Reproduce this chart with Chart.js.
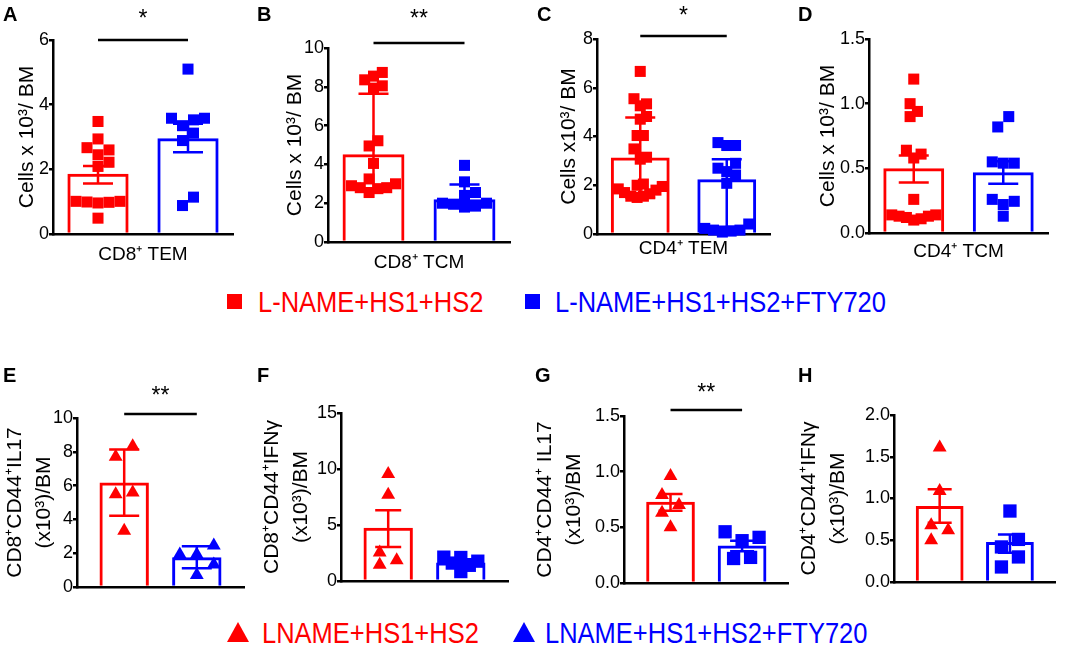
<!DOCTYPE html>
<html>
<head>
<meta charset="utf-8">
<script src="https://cdn.jsdelivr.net/npm/chart.js@4.4.1/dist/chart.umd.min.js"></script>
<style>
html,body{margin:0;padding:0;background:#fff;}
#wrap{position:relative;width:1065px;height:647px;overflow:hidden;font-family:'Liberation Sans',Arial,sans-serif;background:#fff;}
.lbl{position:absolute;font-weight:bold;font-size:20px;line-height:20px;color:#000;}
.leg{position:absolute;font-size:25.5px;line-height:26px;white-space:nowrap;transform:scaleY(1.12);transform-origin:0 21.8px;}
.sq{position:absolute;width:15px;height:15px;}
.tri{position:absolute;width:0;height:0;border-left:11px solid transparent;border-right:11px solid transparent;border-bottom:20px solid;}
</style>
</head>
<body>
<div id="wrap"></div>
<script>
// ---------- data ----------
const groupsTop = ['L-NAME+HS1+HS2', 'L-NAME+HS1+HS2+FTY720'];
const groupsBottom = ['LNAME+HS1+HS2', 'LNAME+HS1+HS2+FTY720'];

// A: CD8+ TEM
const aRed  = [3.48, 2.94, 2.67, 2.45, 2.60, 2.09, 2.22, 0.98, 1.01, 0.96, 1.01, 0.99, 0.49];
const aBlue = [5.10, 3.58, 3.53, 3.58, 3.35, 3.12, 2.89, 1.14, 0.88];
const aMean = [1.86, 2.96];
const aErrLo = [1.56, 2.53];
const aErrHi = [2.10, 3.41];

// B: CD8+ TCM
const bRed  = [8.55, 8.05, 7.93, 8.36, 8.74, 4.95, 5.22, 4.05, 2.80, 2.90, 2.55, 3.00, 3.25, 2.75, 2.80];
const bBlue = [3.95, 3.10, 2.40, 2.55, 2.00, 1.80, 1.85, 1.95, 2.00];
const bMean = [4.52, 2.21];
const bErrLo = [2.70, 1.75];
const bErrHi = [7.64, 2.97];

// C: CD4+ TEM
const cRed  = [6.67, 5.34, 5.55, 5.26, 4.82, 4.71, 4.04, 4.04, 3.49, 3.15, 3.07,
               2.05, 1.95, 1.80, 1.65, 1.55, 1.50, 1.55, 1.70, 1.85, 2.00];
const cBlue = [3.63, 3.63, 3.75, 2.70, 2.90, 2.42, 2.56, 2.08, 0.23, 0.16, 0.08, 0.41, 0.16, 0.12];
const cMean = [3.14, 2.25];
const cErrLo = [1.50, 0.30];
const cErrHi = [4.78, 3.07];

// D: CD4+ TCM
const dRed  = [1.19, 0.94, 1.00, 0.90, 0.64, 0.58, 0.61, 0.26, 0.13, 0.11, 0.10, 0.12, 0.14, 0.13, 0.14];
const dBlue = [0.90, 0.82, 0.55, 0.54, 0.54, 0.245, 0.26, 0.22, 0.13];
const dMean = [0.50, 0.47];
const dErrLo = [0.39, 0.38];
const dErrHi = [0.60, 0.555];

// E: CD8+CD44+IL17
const eRed  = [8.33, 7.71, 5.59, 5.49, 3.33];
const eBlue = [1.92, 1.92, 2.45, 1.33, 0.71];
const eMean = [6.18, 1.76];
const eErrLo = [4.22, 1.11];
const eErrHi = [8.14, 2.41];

// F: CD8+CD44+IFNγ
const fRed  = [9.56, 7.70, 2.54, 1.45, 1.86];
const fBlue = [2.13, 2.10, 1.77, 1.40, 0.84, 1.60];
const fMean = [4.75, 1.65];
const fErrLo = [3.04, 1.35];
const fErrHi = [6.31, 1.95];

// G: CD4+CD44+ IL17
const gRed  = [0.96, 0.79, 0.70, 0.63, 0.50];
const gBlue = [0.46, 0.41, 0.38, 0.22, 0.23];
const gMean = [0.73, 0.336];
const gErrLo = [0.65, 0.285];
const gErrHi = [0.80, 0.38];

// H: CD4+CD44+IFNγ
const hRed  = [1.61, 1.09, 0.68, 0.62, 0.50];
const hBlue = [0.85, 0.51, 0.42, 0.30, 0.18];
const hMean = [0.91, 0.48];
const hErrLo = [0.71, 0.35];
const hErrHi = [1.11, 0.57];

// axis ranges / ticks
const yMaxes = [6, 10, 8, 1.5, 10, 15, 1.5, 2.0];
const ySteps = [2, 2, 2, 0.5, 2, 5, 0.5, 0.5];
const yDecimals = [0, 0, 0, 1, 0, 0, 1, 1];
const sigLabels = ['*', '**', '*', '', '**', '', '**', ''];
const sigLevels = [6.0, 10.26, 8.12, 0, 10.24, 0, 1.555, 0];

// ---------- styling / layout ----------
const RED = '#ff0000', BLUE = '#0000ff';
const FONT = "'Liberation Sans', Arial, sans-serif";
Chart.defaults.font.family = FONT;
Chart.defaults.font.size = 18;
Chart.defaults.color = '#000';

const wrap = document.getElementById('wrap');

const panels = [
  {id:'A', red:aRed, blue:aBlue, mean:aMean, lo:aErrLo, hi:aErrHi, yTitle:'Cells x 10³/ BM', xTitle:'CD8⁺ TEM',
   box:[0,0,250,272], area:[53,40,233,234], yTitleX:27, xTitleY:255, row:0, sigGap:14},
  {id:'B', red:bRed, blue:bBlue, mean:bMean, lo:bErrLo, hi:bErrHi, yTitle:'Cells x 10³/ BM', xTitle:'CD8⁺ TCM',
   box:[255,0,265,275], area:[328,48,510,242], yTitleX:295, xTitleY:263, row:0, sigGap:17},
  {id:'C', red:cRed, blue:cBlue, mean:cMean, lo:cErrLo, hi:cErrHi, yTitle:'Cells x10³/ BM', xTitle:'CD4⁺ TEM',
   box:[520,0,258,270], area:[597,39,770,234], yTitleX:569, xTitleY:249, row:0, sigGap:13},
  {id:'D', red:dRed, blue:dBlue, mean:dMean, lo:dErrLo, hi:dErrHi, yTitle:'Cells x 10³/ BM', xTitle:'CD4⁺ TCM',
   box:[778,0,287,270], area:[869,39,1048,233], yTitleX:828, xTitleY:252, row:0, sigGap:13},
  {id:'E', red:eRed, blue:eBlue, mean:eMean, lo:eErrLo, hi:eErrHi, yTitle:['CD8⁺CD44⁺IL17','(x10³)/BM'], xTitle:null,
   box:[0,340,255,260], area:[77,418,244,587], yTitleX:15, row:1, marks:['triangle','triangle'], sigGap:11, cap:15},
  {id:'F', red:fRed, blue:fBlue, mean:fMean, lo:fErrLo, hi:fErrHi, yTitle:['CD8⁺CD44⁺IFNγ','(x10³)/BM'], xTitle:null,
   box:[255,340,263,260], area:[341,413,508,581], yTitleX:272, row:1, marks:['triangle','rect'], sigGap:11, cap:13},
  {id:'G', red:gRed, blue:gBlue, mean:gMean, lo:gErrLo, hi:gErrHi, yTitle:['CD4⁺CD44⁺ IL17','(x10³)/BM'], xTitle:null,
   box:[518,340,280,260], area:[624,416,792,583], yTitleX:545, row:1, marks:['triangle','rect'], sigGap:10, cap:12},
  {id:'H', red:hRed, blue:hBlue, mean:hMean, lo:hErrLo, hi:hErrHi, yTitle:['CD4⁺CD44⁺IFNγ','(x10³)/BM'], xTitle:null,
   box:[790,340,275,260], area:[894,415,1062,582], yTitleX:809, row:1, marks:['triangle','rect'], sigGap:10, cap:12}
];

function radiusFor(style, row) {
  if (style === 'triangle') return 8;
  return row === 0 ? 7.8 : 9.4;
}

// column-scatter layout (GraphPad-like): stack colliding points side by side, centre each cluster
function swarmColumns(ys, gy) {
  const idx = ys.map((y, i) => i).sort((a, b) => ys[b] - ys[a]);
  const placed = [], cols = [];
  for (const i of idx) {
    const y = ys[i];
    let n = 0, col = 0;
    for (;;) {
      col = n === 0 ? 0 : (n % 2 ? (n + 1) / 2 : -n / 2);
      if (!placed.some(q => q.c === col && Math.abs(q.y - y) < gy)) break;
      n++;
    }
    placed.push({c: col, y});
    cols[i] = col;
  }
  let cluster = [];
  const flush = () => {
    if (!cluster.length) return;
    const cs = cluster.map(i => cols[i]);
    const shift = -(Math.max(...cs) + Math.min(...cs)) / 2;
    cluster.forEach(i => { cols[i] += shift; });
    cluster = [];
  };
  let prevY = null;
  for (const i of idx) {
    if (prevY !== null && Math.abs(ys[i] - prevY) >= gy) flush();
    cluster.push(i);
    prevY = ys[i];
  }
  flush();
  return cols;
}

function makePanel(p, k) {
  const [bl, bt, bw, bh] = p.box;
  const cv = document.createElement('canvas');
  cv.width = bw; cv.height = bh;
  cv.style.cssText = `position:absolute;left:${bl}px;top:${bt}px;width:${bw}px;height:${bh}px;`;
  wrap.appendChild(cv);

  const marks = p.marks || ['rect', 'rect'];
  const m = p.row === 0 ? 0.5 : 0.65;
  const yW = p.area[0] - bl;
  const xH = bt + bh - p.area[3];
  const multi = Array.isArray(p.yTitle);
  const yLH = multi ? 29 : 25.2;
  const yPad = p.yTitleX - bl - yLH / 2;
  const swarm = p.row === 0 ? {gx:11, gy:11.5, spread:22} : {gx:17, gy:12, spread:17};
  const cap = p.cap || 15;
  const dec = yDecimals[k];

  const extras = {
    id: 'extras' + p.id,
    beforeDatasetsDraw(chart) {
      const xs = chart.scales.x;
      chart.data.datasets.forEach((ds, di) => {
        if (ds.type !== 'scatter') return;
        const pts = chart.getDatasetMeta(di).data;
        const cx = xs.getPixelForValue(di);
        const cols = swarmColumns(pts.map(q => q.y), swarm.gy);
        const maxC = Math.max(0, ...cols.map(Math.abs));
        const step = maxC ? Math.min(swarm.gx, swarm.spread / maxC) : swarm.gx;
        pts.forEach((q, i) => { q.x = cx + cols[i] * step; });
      });
    },
    afterDatasetDraw(chart, args) {
      if (args.meta.type !== 'bar') return;
      const {ctx, scales: {x, y}} = chart;
      ctx.save();
      ctx.lineWidth = 2.5;
      [RED, BLUE].forEach((c, i) => {
        const px = x.getPixelForValue(i);
        const y0 = y.getPixelForValue(p.lo[i]);
        const y1 = y.getPixelForValue(p.hi[i]);
        ctx.strokeStyle = c;
        ctx.beginPath();
        ctx.moveTo(px, y0); ctx.lineTo(px, y1);
        ctx.moveTo(px - cap, y1); ctx.lineTo(px + cap, y1);
        ctx.moveTo(px - cap, y0); ctx.lineTo(px + cap, y0);
        ctx.stroke();
      });
      ctx.restore();
    },
    afterDraw(chart) {
      const lab = sigLabels[k];
      if (!lab) return;
      const {ctx, scales: {x, y}} = chart;
      const x0 = x.getPixelForValue(0), x1 = x.getPixelForValue(1);
      const yy = y.getPixelForValue(sigLevels[k]);
      ctx.save();
      ctx.strokeStyle = '#000'; ctx.lineWidth = 2.5;
      ctx.beginPath(); ctx.moveTo(x0, yy); ctx.lineTo(x1, yy); ctx.stroke();
      ctx.fillStyle = '#000';
      ctx.font = '23px ' + FONT;
      ctx.textAlign = 'center'; ctx.textBaseline = 'alphabetic';
      ctx.fillText(lab, (x0 + x1) / 2, yy - p.sigGap);
      ctx.restore();
    }
  };

  const xTitle = p.xTitle ? {
    display: true, text: p.xTitle, color: '#000',
    font: {size: 19, lineHeight: 1.2},
    padding: {top: 0, bottom: (bt + bh - p.xTitleY) - 11.4}
  } : {display: false};

  new Chart(cv, {
    type: 'bar',
    data: {
      datasets: [
        {type: 'scatter', label: (p.row ? groupsBottom : groupsTop)[0],
         data: p.red.map(v => ({x: 0, y: v})),
         pointStyle: marks[0], pointRadius: radiusFor(marks[0], p.row), pointHoverRadius: radiusFor(marks[0], p.row),
         pointBackgroundColor: RED, pointBorderWidth: 0, clip: false, order: 1},
        {type: 'scatter', label: (p.row ? groupsBottom : groupsTop)[1],
         data: p.blue.map(v => ({x: 1, y: v})),
         pointStyle: marks[1], pointRadius: radiusFor(marks[1], p.row), pointHoverRadius: radiusFor(marks[1], p.row),
         pointBackgroundColor: BLUE, pointBorderWidth: 0, clip: false, order: 2},
        {type: 'bar', label: 'mean',
         data: p.mean.map((v, i) => ({x: i, y: v})),
         backgroundColor: 'rgba(0,0,0,0)', borderColor: [RED, BLUE], borderWidth: 3,
         borderSkipped: 'bottom', barPercentage: 0.68, categoryPercentage: 1, order: 10}
      ]
    },
    options: {
      responsive: false, animation: false, events: [],
      layout: {padding: {top: p.area[1] - bt, right: bl + bw - p.area[2], left: 0, bottom: 0}},
      plugins: {legend: {display: false}, tooltip: {enabled: false}},
      scales: {
        x: {
          type: 'linear', min: -m, max: 1 + m, offset: false,
          afterBuildTicks: s => { s.ticks = [{value: 0}, {value: 1}]; },
          ticks: {display: false},
          grid: {display: false, offset: false},
          border: {display: true, color: '#000', width: 2.5},
          title: xTitle,
          afterFit: s => { s.height = xH; }
        },
        y: {
          type: 'linear', min: 0, max: yMaxes[k],
          ticks: {stepSize: ySteps[k], font: {size: 18}, color: '#000', padding: 0,
                  callback: v => Number(v).toFixed(dec)},
          grid: {drawOnChartArea: false, drawTicks: true, tickLength: 4, color: '#000', lineWidth: 2.5},
          border: {display: true, color: '#000', width: 2.5},
          title: {display: true, text: p.yTitle, color: '#000',
                  font: {size: 21, lineHeight: yLH / 21},
                  padding: {top: yPad, bottom: 0}},
          afterFit: s => { s.width = yW; }
        }
      }
    },
    plugins: [extras]
  });
}

panels.forEach(makePanel);

// panel letters
[['A',3,4.4],['B',257,4.4],['C',537,4.4],['D',798,4.4],
 ['E',3,365.4],['F',257,365.4],['G',535,365.4],['H',798,365.4]].forEach(([t, x, y]) => {
  const d = document.createElement('div');
  d.className = 'lbl'; d.textContent = t;
  d.style.left = x + 'px'; d.style.top = y + 'px';
  wrap.appendChild(d);
});

// shared legends
function legendText(text, color, x, baseline) {
  const d = document.createElement('div');
  d.className = 'leg'; d.textContent = text; d.style.color = color;
  d.style.left = x + 'px'; d.style.top = (baseline - 21.8) + 'px';
  wrap.appendChild(d);
}
function legendSquare(color, x, y) {
  const d = document.createElement('div');
  d.className = 'sq'; d.style.background = color;
  d.style.left = x + 'px'; d.style.top = y + 'px';
  wrap.appendChild(d);
}
function legendTriangle(color, x, y) {
  const d = document.createElement('div');
  d.className = 'tri'; d.style.borderBottomColor = color;
  d.style.left = x + 'px'; d.style.top = y + 'px';
  wrap.appendChild(d);
}
legendSquare(RED, 227, 294);
legendText(groupsTop[0], RED, 258, 312);
legendSquare(BLUE, 525, 294);
legendText(groupsTop[1], BLUE, 555, 312);

legendTriangle(RED, 227, 622);
legendText(groupsBottom[0], RED, 262, 643);
legendTriangle(BLUE, 513, 622);
legendText(groupsBottom[1], BLUE, 545, 643);
</script>
</body>
</html>
